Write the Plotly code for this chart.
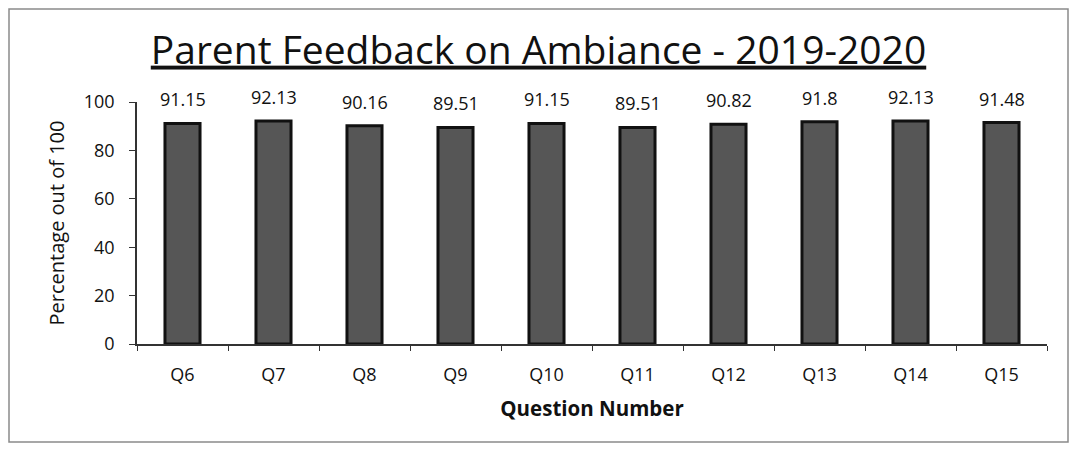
import plotly.graph_objects as go

categories = ["Q6", "Q7", "Q8", "Q9", "Q10", "Q11", "Q12", "Q13", "Q14", "Q15"]
values = [91.15, 92.13, 90.16, 89.51, 91.15, 89.51, 90.82, 91.8, 92.13, 91.48]
labels = ["91.15", "92.13", "90.16", "89.51", "91.15", "89.51", "90.82", "91.8", "92.13", "91.48"]

# page is rendered with an 8px body margin
OFF = 8
W, H = 1077 - 2 * OFF, 451 - 2 * OFF
L, T = 137 - OFF, 102 - OFF
R = W - (1047 - OFF)
B = H - (344 - OFF)
pw, ph = W - L - R, H - T - B

def px_x(p):
    return (p - L) / pw

def px_y(p):
    return (H - B - p) / ph

fig = go.Figure(go.Bar(
    x=categories, y=values,
    marker=dict(color="#565656", line=dict(color="#111", width=3)),
    width=0.385,
))

for c, v, t in zip(categories, values, labels):
    fig.add_annotation(x=c, y=v, text=t, showarrow=False, yanchor="middle",
                       yshift=24, font=dict(size=18, color="#111", family="Open Sans"))

fig.update_layout(
    width=W, height=H,
    margin=dict(l=L, r=R, t=T, b=B),
    paper_bgcolor="white", plot_bgcolor="white",
    showlegend=False,
    font=dict(family="Open Sans", color="#111"),
    title=dict(text="<u>Parent Feedback on Ambiance - 2019-2020</u>",
               x=0.5, xanchor="center", y=1 - (50 - OFF) / H, yanchor="middle",
               font=dict(size=39, family="Open Sans", color="#111")),
    shapes=[dict(type="rect", xref="paper", yref="paper",
                 x0=px_x(1), x1=px_x(W - 1), y0=px_y(H - 1), y1=px_y(1),
                 line=dict(color="#8a8a8a", width=1.5))],
)
fig.update_yaxes(range=[0, 100], dtick=20, showgrid=False, showline=True,
                 linecolor="#333", linewidth=1.5, ticks="outside", ticklen=6,
                 tickcolor="#333", tickfont=dict(size=18), ticklabelstandoff=11,
                 automargin=False,
                 title=dict(text="Percentage out of 100", font=dict(size=20), standoff=14))
fig.update_xaxes(showgrid=False, showline=True, linecolor="#333", linewidth=1.5,
                 ticks="outside", ticklen=5, tickcolor="#333", tickson="boundaries",
                 tickfont=dict(size=18), ticklabelstandoff=14, automargin=False,
                 title=dict(text="<b>Question Number</b>", font=dict(size=20.5), standoff=16))

fig.write_html("out.html")
